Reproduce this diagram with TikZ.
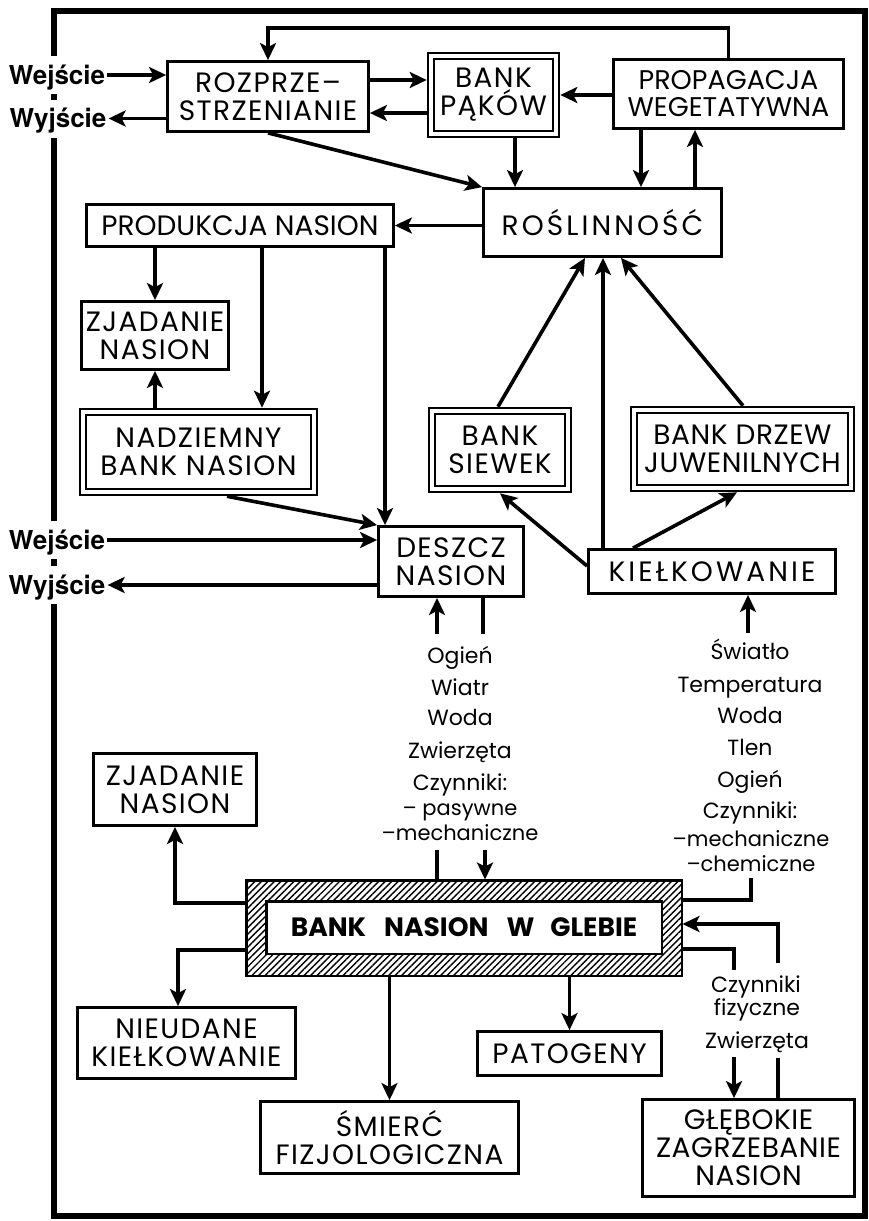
\documentclass[tikz,border=0pt]{standalone}
\usepackage{fontspec}
\setmainfont{Poppins}
\newfontfamily\boxff{Poppins}[LetterSpace=5]
\newfontfamily\midff{Poppins}[LetterSpace=2]
\newfontfamily\wideff{Poppins}[LetterSpace=11]
\newfontfamily\ioff{TeX Gyre Heros}
\usetikzlibrary{arrows.meta,patterns.meta}
\newcommand\boxfont{\boxff\fontsize{28}{28}\selectfont}
\newcommand\midfont{\midff\fontsize{28}{28}\selectfont}
\newcommand\plainfont{\fontsize{28}{28}\selectfont}
\newcommand\propfont{\fontsize{27}{27}\selectfont}
\newcommand\widefont{\wideff\fontsize{28}{28}\selectfont}
\newcommand\labfont{\fontsize{22}{24}\selectfont}
\newcommand\smlfont{\fontsize{21}{23}\selectfont}
\newcommand\iofont{\ioff\fontsize{26}{28}\selectfont\bfseries}
\newcommand\glebfont{\fontsize{26.5}{28}\selectfont\bfseries}
\begin{document}
\begin{tikzpicture}[x=1pt,y=-1pt,
  box/.style={draw, line width=2.8pt, inner sep=0pt, align=center, font=\boxfont},
  dbox/.style={draw, line width=2.3pt, double=white, double distance=4pt, inner sep=0pt, outer sep=4.3pt, align=center, font=\boxfont},
  arr/.style={line width=3.6pt, -{Stealth[length=17pt,width=16pt,inset=4pt]}},
  ln/.style={line width=3.6pt},
  io/.style={font=\iofont, fill=white, text height=18pt, text depth=0pt, inner xsep=2pt, inner ysep=10pt},
  fac/.style={font=\labfont, inner sep=0pt, anchor=base},
]
\useasboundingbox (0,0) rectangle (869,1221);
% frame
\draw[line width=6pt] (54,11) -- (865,11) -- (865,1216) -- (54,1216) -- cycle;

% input / output labels
\node[io] (wej1) at (57,75) {Wejście};
\node[io] (wyj1) at (58,118.5) {Wyjście};
\node[io] (wej2) at (57,540) {Wejście};
\node[io] (wyj2) at (57,585) {Wyjście};

% boxes
\node[box, minimum width=201, minimum height=70] (roz) at (268,96.5) {ROZPRZE–\\STRZENIANIE};
\node[dbox, minimum width=125, minimum height=78] (pak) at (493.5,95) {BANK\\PĄKÓW};
\node[box, minimum width=230, minimum height=69, font=\propfont] (prop) at (728.5,94) {PROPAGACJA\\WEGETATYWNA};
\node[box, minimum width=238, minimum height=68, font=\widefont] (rosl) at (602.5,222.5) {ROŚLINNOŚĆ};
\node[box, minimum width=307, minimum height=42, font=\plainfont] (prod) at (240,225.5) {PRODUKCJA NASION};
\node[box, minimum width=147, minimum height=68] (zj1) at (155,335.5) {ZJADANIE\\NASION};
\node[dbox, minimum width=231, minimum height=80] (nad) at (198.5,452) {NADZIEMNY\\BANK NASION};
\node[dbox, minimum width=136, minimum height=78] (siew) at (500,450) {BANK\\SIEWEK};
\node[dbox, minimum width=217, minimum height=78, font=\midfont] (drzew) at (742.5,449) {BANK DRZEW\\JUWENILNYCH};
\node[box, minimum width=145, minimum height=70] (desz) at (451,561.5) {DESZCZ\\NASION};
\node[box, minimum width=247, minimum height=44, font=\widefont] (kiel) at (712,571.5) {KIEŁKOWANIE};
\node[box, minimum width=163, minimum height=72] (zj2) at (175,789.5) {ZJADANIE\\NASION};
\node[draw, line width=2.5pt, minimum width=435.5, minimum height=95.5, inner sep=0pt,
      pattern={Lines[angle=45,distance=4.6pt,line width=1.4pt]}] (glebie) at (464,928) {};
\node[draw, fill=white, line width=2.5pt, minimum width=395.5, minimum height=52.5, inner sep=0pt,
      font=\glebfont] (glebin) at (464,927.5) {BANK\hspace{18pt}NASION\hspace{18pt}W\hspace{16pt}GLEBIE};
\node[box, minimum width=218, minimum height=71] (nieu) at (186.5,1043) {NIEUDANE\\KIEŁKOWANIE};
\node[box, minimum width=258, minimum height=72] (smierc) at (389.5,1137.5) {ŚMIERĆ\\FIZJOLOGICZNA};
\node[box, minimum width=184, minimum height=44] (pato) at (569.5,1053.5) {PATOGENY};
\node[box, minimum width=212, minimum height=97, font=\midfont] (gleb) at (748.5,1148) {GŁĘBOKIE\\ZAGRZEBANIE\\NASION};

% factor labels
\foreach \t/\yy [count=\i] in {Ogień/663, Wiatr/695, Woda/725, Zwierzęta/758, Czynniki:/790}
  \node[fac] (fl\i) at (460,\yy) {\t};
\node[fac, font=\smlfont] (fl6) at (460,815) {– pasywne};
\node[fac, font=\smlfont] (fl7) at (460,840) {–mechaniczne};
\foreach \t/\yy [count=\i] in {Światło/659, Temperatura/692, Woda/723, Tlen/755, Ogień/787, Czynniki:/818}
  \node[fac] (fr\i) at (750,\yy) {\t};
\node[fac, font=\smlfont] (fr7) at (751,846) {–mechaniczne};
\node[fac, font=\smlfont] (fr8) at (751,871) {–chemiczne};
\node[fac] (fb1) at (756,992) {Czynniki};
\node[fac] (fb2) at (757,1015) {fizyczne};
\node[fac] (fb3) at (757,1048) {Zwierzęta};

% top connectors
\draw[arr] (wej1.east) -- (wej1.east -| roz.west);
\draw[arr] (roz.west |- wyj1.east) -- (wyj1.east);
\draw[arr] (roz.east |- 0,80) -- (pak.west |- 0,80);
\draw[arr] (pak.west |- 0,113) -- (roz.east |- 0,113);
\draw[arr] (prop.west |- 0,95) -- (pak.east |- 0,95);
\draw[arr] (prop.north) -- ++(0,-30) -| (roz.north);
\draw[arr] (roz.south) -- (rosl.north west);
\draw[arr] (515,0 |- pak.south) -- (515,0 |- rosl.north);
\draw[arr] (641,0 |- prop.south) -- (641,0 |- rosl.north);
\draw[arr] (695,0 |- rosl.north) -- (695,0 |- prop.south);
\draw[arr] (rosl.west |- prod.east) -- (prod.east);
\draw[arr] (zj1.north |- prod.south) -- (zj1.north);
\draw[arr] (262,0 |- prod.south) -- (262,0 |- nad.north);
\draw[arr] (385,0 |- prod.south) -- (385,0 |- desz.north);
\draw[arr] (zj1.south |- nad.north) -- (zj1.south);
\draw[arr] (227,0 |- nad.south) -- (desz.north west);
\draw[arr] (wej2.east) -- (wej2.east -| desz.west);
\draw[arr] (desz.west |- wyj2.east) -- (wyj2.east);
% seedlings / juveniles
\draw[arr] (498,0 |- siew.north) -- (585,0 |- rosl.south);
\draw[arr] (603,0 |- kiel.north) -- (603,0 |- rosl.south);
\draw[arr] (743,0 |- drzew.north) -- (621,0 |- rosl.south);
\draw[arr] (kiel.west |- 0,566) -- (500,0 |- siew.south);
\draw[arr] (633,0 |- kiel.north) -- (737,0 |- drzew.south);

% factors between seed rain and soil bank
\coordinate (l1) at (437,634);
\coordinate (l2) at (483,634);
\coordinate (l3) at (437,850);
\coordinate (l4) at (485,850);
\draw[arr] (l1) -- (l1 |- desz.south);
\draw[ln] (l2 |- desz.south) -- (l2);
\draw[ln] (l3) -- (l3 |- glebie.north);
\draw[arr] (l4) -- (l4 |- glebie.north);
% factors for germination
\coordinate (r1) at (748,633);
\coordinate (r2) at (751,878);
\draw[arr] (r1) -- (r1 |- kiel.south);
\draw[ln] (glebie.east |- 0,900) -| (r2);
% deep burial
\coordinate (r3) at (734,970);
\coordinate (r4) at (734,1057);
\coordinate (r5) at (778,963);
\coordinate (r6) at (778,1058);
\draw[ln] (glebie.east |- 0,949) -| (r3);
\draw[arr] (r4) -- (r4 |- gleb.north);
\draw[arr] (r5) |- (glebie.east |- 0,924);
\draw[ln] (r6 |- gleb.north) -- (r6);

% soil bank outputs
\draw[arr] (glebie.west |- 0,903) -| (zj2.south);
\draw[arr] (glebie.west |- 0,950) -| (178,0 |- nieu.north);
\draw[arr] (smierc.north |- glebie.south) -- (smierc.north);
\draw[arr] (pato.north |- glebie.south) -- (pato.north);
\end{tikzpicture}
\end{document}
